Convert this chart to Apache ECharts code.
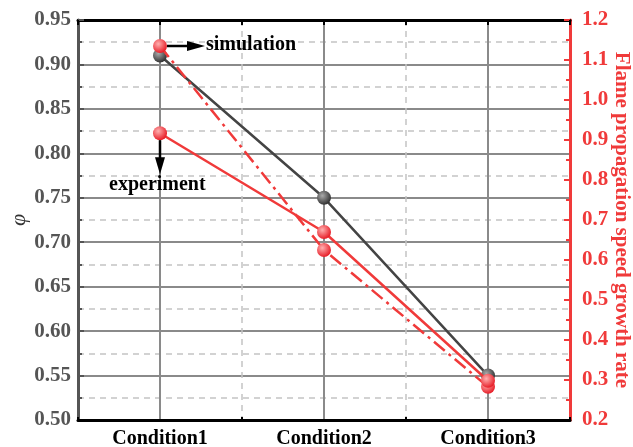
<!DOCTYPE html>
<html><head><meta charset="utf-8">
<script src="https://cdn.jsdelivr.net/npm/echarts@6/dist/echarts.min.js"></script>
<style>html,body{margin:0;padding:0;background:#fff}#c{width:633px;height:447px}</style>
</head><body><div id="c"></div>
<script>
const categories = ['Condition1', 'Condition2', 'Condition3'];
const phiValues = [0.91, 0.75, 0.55];
const simulationRate = [1.135, 0.625, 0.283];
const experimentRate = [0.917, 0.67, 0.298];
const leftTicks = {min: 0.50, max: 0.95, interval: 0.05};
const rightTicks = {min: 0.2, max: 1.2, interval: 0.1};

const FONT = '"Liberation Serif", "Times New Roman", serif';
const RED = '#f03a3a';
const chart = echarts.init(document.getElementById('c'), null, {renderer: 'canvas'});

function sphere(base, light) {
  return {type: 'radial', x: 0.38, y: 0.35, r: 0.65,
    colorStops: [{offset: 0, color: light}, {offset: 1, color: base}]};
}

const option = {
  animation: false,
  backgroundColor: '#fff',
  grid: {left: 78, right: 63, top: 20, bottom: 27, containLabel: false, outerBoundsMode: 'none'},
  xAxis: [
    {type: 'category', data: categories, position: 'bottom', boundaryGap: true,
     axisLine: {onZero: false, lineStyle: {color: '#000', width: 3}},
     axisTick: {inside: true, alignWithLabel: true, length: 7, lineStyle: {color: '#000', width: 2}},
     axisLabel: {color: '#000', fontFamily: FONT, fontWeight: 'bold', fontSize: 20, margin: 9},
     splitLine: {show: false}, z: 5},
    {type: 'value', position: 'top', min: 0, max: 3, interval: 1,
     axisLine: {show: true, onZero: false, lineStyle: {color: '#000', width: 3}},
     axisTick: {show: true, inside: true, length: 5, lineStyle: {color: '#000', width: 2}},
     minorTick: {show: true, splitNumber: 2, length: 5, lineStyle: {color: '#000', width: 2}},
     axisLabel: {show: false},
     splitLine: {show: true, lineStyle: {color: '#c4c4c4', width: 1.5, type: [6, 5]}},
     minorSplitLine: {show: true, lineStyle: {color: '#8a8a8a', width: 2}}},
    {type: 'value', position: 'bottom', min: 0, max: 3, interval: 1,
     axisLine: {show: false, onZero: false},
     axisTick: {show: true, inside: true, length: 3, lineStyle: {color: '#000', width: 2}},
     axisLabel: {show: false}, splitLine: {show: false}}
  ],
  yAxis: [
    {type: 'value', position: 'left', min: leftTicks.min, max: leftTicks.max, interval: leftTicks.interval,
     name: 'φ', nameLocation: 'middle', nameGap: 48, nameRotate: 90, nameMoveOverlap: false,
     nameTextStyle: {fontFamily: FONT, fontStyle: 'italic', fontSize: 22, color: '#333'},
     axisLine: {show: true, onZero: false, lineStyle: {color: '#555', width: 3}},
     axisTick: {inside: true, length: 6, lineStyle: {color: '#555', width: 2}},
     minorTick: {show: true, splitNumber: 2, length: 4, lineStyle: {color: '#555', width: 2}},
     axisLabel: {color: '#555', fontFamily: FONT, fontWeight: 'bold', fontSize: 21, margin: 7,
       formatter: v => v.toFixed(2)},
     splitLine: {show: true, lineStyle: {color: '#8a8a8a', width: 2}},
     minorSplitLine: {show: true, lineStyle: {color: '#c4c4c4', width: 1.5, type: [6, 5]}}},
    {type: 'value', position: 'right', min: rightTicks.min, max: rightTicks.max, interval: rightTicks.interval,
     name: 'Flame propagation speed growth rate', nameLocation: 'middle', nameGap: 41, nameRotate: -90,
     nameMoveOverlap: false,
     nameTextStyle: {fontFamily: FONT, fontWeight: 'bold', fontSize: 21, color: RED},
     axisLine: {show: true, onZero: false, lineStyle: {color: RED, width: 3}},
     axisTick: {inside: true, length: 6, lineStyle: {color: RED, width: 2}},
     minorTick: {show: true, splitNumber: 2, length: 4, lineStyle: {color: RED, width: 2}},
     axisLabel: {color: RED, fontFamily: FONT, fontWeight: 'bold', fontSize: 21, margin: 12,
       formatter: v => v.toFixed(1)},
     splitLine: {show: false}}
  ],
  series: [
    {name: 'phi', type: 'line', xAxisIndex: 0, yAxisIndex: 0, data: phiValues,
     symbol: 'circle', symbolSize: 14, z: 3,
     lineStyle: {color: '#444', width: 2.5},
     itemStyle: {color: sphere('#333', '#aaa'), borderWidth: 0}},
    {name: 'simulation', type: 'line', xAxisIndex: 0, yAxisIndex: 1, data: simulationRate,
     symbol: 'circle', symbolSize: 14, z: 4,
     lineStyle: {color: RED, width: 2.5, type: [14, 5, 3, 5]},
     itemStyle: {color: sphere('#e8202a', '#ffb0b0'), borderWidth: 0}},
    {name: 'experiment', type: 'line', xAxisIndex: 0, yAxisIndex: 1, data: experimentRate,
     symbol: 'circle', symbolSize: 14, z: 4,
     lineStyle: {color: RED, width: 2.5},
     itemStyle: {color: sphere('#e8202a', '#ffb0b0'), borderWidth: 0}}
  ]
};
chart.setOption(option);

const sim = chart.convertToPixel({xAxisIndex: 0, yAxisIndex: 1}, [categories[0], simulationRate[0]]);
const exp = chart.convertToPixel({xAxisIndex: 0, yAxisIndex: 1}, [categories[0], experimentRate[0]]);
chart.setOption({
  graphic: [
    {type: 'line', shape: {x1: sim[0] + 7, y1: sim[1], x2: sim[0] + 30, y2: sim[1]},
     style: {stroke: '#000', lineWidth: 2.5}, z: 10},
    {type: 'polygon', shape: {points: [[sim[0] + 27, sim[1] - 5], [sim[0] + 45, sim[1]], [sim[0] + 27, sim[1] + 5]]},
     style: {fill: '#000'}, z: 10},
    {type: 'text', x: sim[0] + 46, y: sim[1] - 1,
     style: {text: 'simulation', font: 'bold 20px ' + FONT, fill: '#000', textVerticalAlign: 'middle'}, z: 10},
    {type: 'line', shape: {x1: exp[0], y1: exp[1] + 7, x2: exp[0], y2: exp[1] + 30},
     style: {stroke: '#000', lineWidth: 2.5}, z: 10},
    {type: 'polygon', shape: {points: [[exp[0] - 5, exp[1] + 24], [exp[0], exp[1] + 41], [exp[0] + 5, exp[1] + 24]]},
     style: {fill: '#000'}, z: 10},
    {type: 'text', x: exp[0] - 51, y: exp[1] + 52,
     style: {text: 'experiment', font: 'bold 20px ' + FONT, fill: '#000', textVerticalAlign: 'middle'}, z: 10}
  ]
});
</script></body></html>
